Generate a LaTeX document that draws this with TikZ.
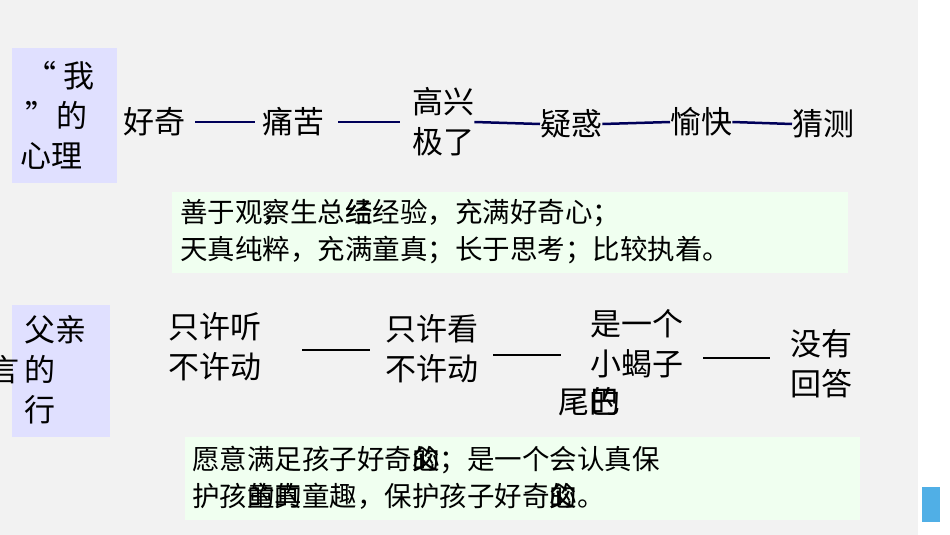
\documentclass[tikz,border=0pt]{standalone}
\usepackage{fontspec}
\setmainfont{Noto Sans CJK SC}
\begin{document}
\begin{tikzpicture}[x=1pt,y=-1pt,
  t/.style={inner sep=0pt,anchor=west,font=\fontsize{31}{40}\selectfont,align=left},
  g/.style={inner sep=0pt,anchor=west,font=\fontsize{27.5}{37}\selectfont,align=left},
  dl/.style={line width=2.5pt,draw=blue!35!black},
  bl/.style={line width=2.5pt,draw=black}]
\useasboundingbox (0,0) rectangle (950,535);
\clip (0,0) rectangle (950,535);
\fill[black!5] (0,0) rectangle (950,535);
\fill[white] (918,0) rectangle (950,535);
\fill[cyan!80!blue!70] (922,487) rectangle (940,522);
\fill[blue!12] (12,48) rectangle (117,183);
\fill[blue!12] (12,305) rectangle (110,437);
\fill[green!6] (172,192) rectangle (848,273);
\fill[green!6] (185,437) rectangle (860,520);
\node[t] (me) at (20,115) {\,“ 我\\\,”的\\心理};
\node[t] (a1) at (123,122) {好奇};
\node[t] (a2) at (262,122) {痛苦};
\node[t] (a3) at (412,122) {高兴\\极了};
\node[t] (a4) at (540,124) {疑惑};
\node[t] (a5) at (670,122) {愉快};
\node[t] (a6) at (792,124) {猜测};
\draw[dl] ([xshift=10pt]a1.east) -- ([xshift=-7pt]a2.west);
\draw[dl] ([xshift=14pt]a2.east) -- ([xshift=-12pt]a3.west);
\draw[dl] (a3.east) -- (a4.west);
\draw[dl] (a4.east) -- (a5.west);
\draw[dl] (a5.east) -- (a6.west);
\node[g] (s1) at (180,232) {善于观察\llap{，}生总\rlap{结}经经验，充满好奇心；\\天真纯粹，充满童真；长于思考；比较执着。};
\node[t] (fa) at (24,370) {父亲\\的\\行};
\node[t] (yan) at (-12,370) {言};
\node[t] (b1) at (168,347) {只许听\\不许动};
\node[t] (b2) at (385,349) {只许看\\不许动};
\node[t] (b3) at (590,344) {是一个\\小蝎子};
\node[t] (b3b) at (558,402) {尾\rlap{的}巴};
\node[t] (b4) at (790,364) {没有\\回答};
\coordinate (l1a) at (302,350); \coordinate (l1b) at (370,350);
\draw[bl] (l1a) -- (l1b);
\draw[bl] (b2.east) ++(15,6) -- ++(68,0);
\draw[bl] (b3.east) ++(20,14) -- ++(67,0);
\node[g] (s2) at (192,478) {愿意满足孩子好奇\rlap{心}\rlap{父}的；是一个会认真保\\护孩\rlap{童}的\rlap{的}真童趣，保护孩子好奇\rlap{心}\rlap{父}的。};
\end{tikzpicture}
\end{document}
